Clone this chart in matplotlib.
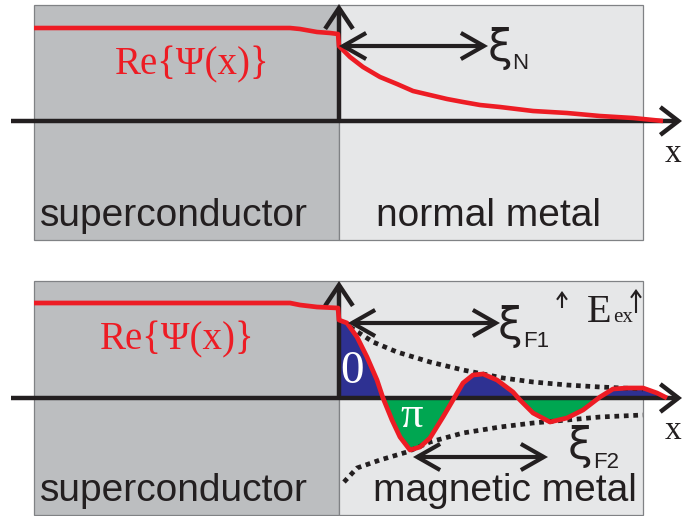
"""S/N and S/F proximity effect sketch: Re{Psi(x)} across the interface"""
import numpy as np
import matplotlib
matplotlib.use('Agg')
import matplotlib.pyplot as plt
from matplotlib.patches import Rectangle, FancyArrowPatch, ArrowStyle

RED = '#ed1c24'; NAVY = '#2e3192'; GREEN = '#00a651'; INK = '#231f20'
SC_GRAY = '#bcbec0'; MET_GRAY = '#e6e7e8'; EDGE = '#808285'
SERIF = 'Liberation Serif'; SANS = 'Liberation Sans'

# x measured from the S/metal interface, amplitude above the x axis (read off the sketch)
# top: superconductor / normal metal
psi_n_x = [-305, -49, -39, -22, -9, -1, 0, 11, 24, 41, 58, 74, 91, 108, 124,
           141, 161, 194, 228, 261, 294, 324]
psi_n_y = [93, 93, 92, 89, 88, 87, 75, 64, 54, 44, 37, 30, 26, 22, 19,
           16, 14, 10, 8, 5, 3, 0]

# bottom: superconductor / magnetic metal (damped oscillation)
psi_f_x = [-305, -49, -39, -22, -1, 0, 8, 18, 28, 38, 44, 53, 61, 71, 81, 91,
           104, 114, 124, 134, 144, 158, 174, 181, 194, 211,
           228, 244, 261, 274, 288, 304, 318, 328]
psi_f_y = [95, 95, 93, 91, 90, 78, 75, 61, 41, 18, 0, -22, -39, -52, -49, -40,
           -19, -2, 15, 23, 24, 18, 6, -2, -15, -24,
           -20, -12, 1, 9, 10, 10, 5, 0]

# dotted decay envelopes
env_up_x = [11, 34, 58, 91, 124, 164, 194, 228, 261, 304]
env_up_y = [71, 56, 46, 36, 28, 20, 16, 13, 11, 9]
env_lo_x = [5, 18, 41, 68, 91, 124, 161, 194, 228, 261, 304]
env_lo_y = [-84, -70, -62, -54, -44, -35, -29, -25, -22, -19, -17]

fig = plt.figure(figsize=(6.83, 5.16), dpi=100)
fig.patch.set_facecolor('white')
ax_top = fig.add_axes([0, 0.5, 1, 0.5])
ax_bot = fig.add_axes([0, 0, 1, 0.5])
ax_top.set_xlim(-339, 344); ax_top.set_ylim(-137, 121)
ax_bot.set_xlim(-339, 344); ax_bot.set_ylim(-118, 140)
for a in (ax_top, ax_bot):
    a.axis('off')


def arrow(ax, p0, p1, style='->', hl=12, hw=9, lw=3.0, z=3):
    ax.add_patch(FancyArrowPatch(p0, p1,
        arrowstyle=ArrowStyle(style, head_length=hl, head_width=hw),
        mutation_scale=1, lw=lw, color=INK, shrinkA=0, shrinkB=0,
        clip_on=False, zorder=z, joinstyle='miter', capstyle='butt'))


def xi(ax, x, y, sub, dx, dy):
    ax.text(x, y, 'ξ', ha='center', va='center', fontsize=32, family='DejaVu Sans', color=INK)
    ax.text(x + dx, y + dy, sub, ha='left', va='baseline', fontsize=16, family=SANS, color=INK)


def panel(ax, y0, h, metal_label, metal_cx):
    ax.add_patch(Rectangle((-305, y0), 305, h, facecolor=SC_GRAY, edgecolor=EDGE, lw=0.9, zorder=0))
    ax.add_patch(Rectangle((0, y0), 304, h, facecolor=MET_GRAY, edgecolor=EDGE, lw=0.9, zorder=0))
    ax.text(-165, y0 + 24, 'superconductor', ha='center', va='center', fontsize=28,
            family=SANS, color=INK, zorder=6)
    ax.text(metal_cx, y0 + 24, metal_label, ha='center', va='center', fontsize=28,
            family=SANS, color=INK, zorder=6)
    # axes of the sketch
    arrow(ax, (-328, 0), (343, 0), hl=13, hw=10, lw=3.2, z=2)
    arrow(ax, (0, 0), (0, 117), hl=15, hw=10, lw=3.2, z=2)
    ax.text(334, -33, 'x', ha='center', va='center', fontsize=24, family=SERIF, color=INK)


# ---- top panel
panel(ax_top, -119, 235, 'normal metal', 149)
ax_top.plot(psi_n_x, psi_n_y, color=RED, lw=3.3, solid_joinstyle='round',
            solid_capstyle='butt', zorder=4, clip_on=False)
ax_top.text(-147, 56, 'Re{Ψ(x)}', ha='center', va='center', fontsize=28,
            family=SERIF, color=RED, zorder=6)
arrow(ax_top, (0, 75), (149, 75), style='<->', hl=16.5, hw=9.4, lw=3.0, z=5)
xi(ax_top, 161, 73, 'N', 12, -21)

# ---- bottom panel
panel(ax_bot, -117, 234, 'magnetic metal', 166)
fx = np.array(psi_f_x, dtype=float)
fy = np.array(psi_f_y, dtype=float)
m = fx >= 0
ax_bot.fill_between(fx[m], fy[m], 0, where=fy[m] >= 0, interpolate=True,
                    color=NAVY, lw=0, zorder=1)
ax_bot.fill_between(fx[m], fy[m], 0, where=fy[m] <= 0, interpolate=True,
                    color=GREEN, lw=0, zorder=1)
for ex, ey in ((env_up_x, env_up_y), (env_lo_x, env_lo_y)):
    ax_bot.plot(ex, ey, color=INK, lw=3.4, linestyle=(0, (1, 1)),
                dash_capstyle='butt', zorder=3)
ax_bot.plot(fx, fy, color=RED, lw=3.4, solid_joinstyle='round',
            solid_capstyle='butt', zorder=4, clip_on=False)
ax_bot.text(-162, 58, 'Re{Ψ(x)}', ha='center', va='center', fontsize=28,
            family=SERIF, color=RED, zorder=6)
ax_bot.text(13, 26, '0', ha='center', va='center', fontsize=34, family=SERIF, color='white', zorder=6)
ax_bot.text(73, -18, 'π', ha='center', va='center', fontsize=32, family=SERIF, color='white', zorder=6)

arrow(ax_bot, (9, 75), (161, 75), style='<->', hl=16.5, hw=9.4, lw=3.0, z=5)
xi(ax_bot, 171, 72, 'F1', 13, -21)

arrow(ax_bot, (74, -59), (209, -59), style='<->', hl=16.5, hw=9.4, lw=3.0, z=5)
xi(ax_bot, 241, -48, 'F2', 13, -22)

# exchange field
ax_bot.text(248, 76, 'E', ha='left', va='baseline', fontsize=29, family=SERIF, color=INK)
ax_bot.text(274, 76, 'ex', ha='left', va='baseline', fontsize=15, family=SERIF, color=INK)
arrow(ax_bot, (223, 90), (223, 107), hl=5, hw=3.6, lw=1.5)
arrow(ax_bot, (297, 85), (297, 109), hl=5, hw=3.6, lw=1.5)

fig.savefig('out.png', dpi=100, facecolor='white')
plt.close(fig)
